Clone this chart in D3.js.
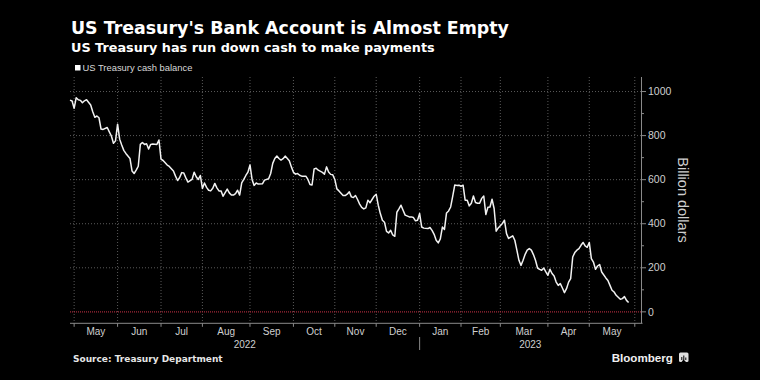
<!DOCTYPE html>
<html><head><meta charset="utf-8">
<script src="https://cdn.jsdelivr.net/npm/d3@7"></script>
<style>html,body{margin:0;padding:0;background:#000;}svg{display:block;}</style>
</head><body>
<svg id="chart" width="760" height="380"></svg>
<script>
// ---- data ----
const title = "US Treasury's Bank Account is Almost Empty";
const subtitle = "US Treasury has run down cash to make payments";
const seriesName = "US Treasury cash balance";
const sourceText = "Source: Treasury Department";
const yAxisTitle = "Billion dollars";

const calendarStart = "2022-04-28";
const calendarEnd = "2023-06-06";
const holidays = ["2022-05-30","2022-06-20","2022-07-04","2022-09-05","2022-10-10","2022-11-11",
  "2022-11-24","2022-12-26","2023-01-02","2023-01-16","2023-02-20","2023-05-29"];

const dates = [
 "2022-04-28","2022-04-29","2022-05-02","2022-05-03","2022-05-04","2022-05-05","2022-05-06","2022-05-09","2022-05-10","2022-05-12",
 "2022-05-13","2022-05-16","2022-05-17","2022-05-18","2022-05-19","2022-05-20","2022-05-24","2022-05-25","2022-05-26","2022-05-27",
 "2022-05-31","2022-06-01","2022-06-02","2022-06-03","2022-06-06","2022-06-07","2022-06-09","2022-06-10","2022-06-13","2022-06-14",
 "2022-06-15","2022-06-16","2022-06-17","2022-06-21","2022-06-22","2022-06-23","2022-06-24","2022-06-27","2022-06-29","2022-06-30",
 "2022-07-01","2022-07-05","2022-07-07","2022-07-08","2022-07-12","2022-07-13","2022-07-14","2022-07-15","2022-07-18","2022-07-19",
 "2022-07-20","2022-07-21","2022-07-25","2022-07-26","2022-07-27","2022-07-28","2022-07-29","2022-08-01","2022-08-02","2022-08-03",
 "2022-08-04","2022-08-05","2022-08-08","2022-08-09","2022-08-10","2022-08-11","2022-08-12","2022-08-15","2022-08-17","2022-08-18",
 "2022-08-19","2022-08-22","2022-08-23","2022-08-24","2022-08-25","2022-08-26","2022-08-29","2022-08-30","2022-08-31","2022-09-01",
 "2022-09-02","2022-09-06","2022-09-07","2022-09-08","2022-09-12","2022-09-13","2022-09-15","2022-09-16","2022-09-19","2022-09-20",
 "2022-09-21","2022-09-22","2022-09-23","2022-09-26","2022-09-27","2022-09-29","2022-09-30","2022-10-03","2022-10-04","2022-10-05",
 "2022-10-06","2022-10-07","2022-10-12","2022-10-13","2022-10-14","2022-10-17","2022-10-18","2022-10-19","2022-10-20","2022-10-24",
 "2022-10-25","2022-10-26","2022-10-27","2022-10-28","2022-10-31","2022-11-01","2022-11-02","2022-11-03","2022-11-07","2022-11-08",
 "2022-11-09","2022-11-10","2022-11-14","2022-11-15","2022-11-16","2022-11-17","2022-11-18","2022-11-21","2022-11-22","2022-11-23",
 "2022-11-25","2022-11-28","2022-11-29","2022-11-30","2022-12-01","2022-12-02","2022-12-05","2022-12-06","2022-12-07","2022-12-08",
 "2022-12-09","2022-12-12","2022-12-13","2022-12-14","2022-12-15","2022-12-16","2022-12-19","2022-12-20","2022-12-21","2022-12-23",
 "2022-12-27","2022-12-28","2022-12-29","2022-12-30","2023-01-03","2023-01-04","2023-01-05","2023-01-09","2023-01-10","2023-01-11",
 "2023-01-12","2023-01-13","2023-01-17","2023-01-18","2023-01-19","2023-01-20","2023-01-23","2023-01-24","2023-01-25","2023-01-26",
 "2023-01-27","2023-01-30","2023-01-31","2023-02-01","2023-02-02","2023-02-03","2023-02-06","2023-02-07","2023-02-08","2023-02-09",
 "2023-02-10","2023-02-13","2023-02-14","2023-02-15","2023-02-16","2023-02-17","2023-02-21","2023-02-22","2023-02-23","2023-02-24",
 "2023-02-27","2023-02-28","2023-03-02","2023-03-03","2023-03-06","2023-03-07","2023-03-08","2023-03-09","2023-03-10","2023-03-13",
 "2023-03-14","2023-03-15","2023-03-16","2023-03-17","2023-03-20","2023-03-21","2023-03-22","2023-03-23","2023-03-24","2023-03-27",
 "2023-03-28","2023-03-29","2023-03-30","2023-03-31","2023-04-03","2023-04-04","2023-04-05","2023-04-06","2023-04-07","2023-04-10",
 "2023-04-11","2023-04-12","2023-04-13","2023-04-14","2023-04-17","2023-04-18","2023-04-19","2023-04-20","2023-04-21","2023-04-24",
 "2023-04-25","2023-04-26","2023-04-27","2023-04-28","2023-05-01","2023-05-02","2023-05-03","2023-05-04","2023-05-05","2023-05-08",
 "2023-05-09","2023-05-11","2023-05-12","2023-05-15","2023-05-16","2023-05-17","2023-05-18","2023-05-22","2023-05-23","2023-05-24",
 "2023-05-25","2023-05-26"
];
const balance = [
 961,957,924,972,963,960,949,958,963,939,
 908,883,889,881,830,828,837,817,798,765,
 776,852,784,757,733,719,696,639,628,643,
 661,760,769,760,763,739,760,762,760,780,
 693,687,666,660,639,616,596,610,632,630,
 608,589,601,634,613,601,619,560,585,565,
 552,549,561,583,563,549,549,525,557,540,
 530,530,537,552,530,585,601,619,634,667,
 601,574,585,580,581,598,604,628,674,696,
 707,696,689,695,707,686,658,634,625,628,
 620,616,616,601,578,576,649,652,643,633,
 625,658,635,624,622,601,558,549,528,528,
 534,545,522,519,528,510,489,474,467,472,
 507,495,510,525,534,484,446,416,407,365,
 358,370,349,343,452,467,484,461,439,431,
 431,428,413,416,446,385,380,378,383,370,
 352,325,313,331,385,374,449,458,476,525,
 576,574,575,570,575,507,507,481,493,526,
 496,493,493,515,526,442,475,476,511,469,
 366,381,401,416,355,333,339,345,325,280,
 234,211,234,261,280,287,280,260,234,199,
 193,189,199,181,166,193,174,163,135,120,
 128,108,87,105,135,151,249,269,280,287,
 302,315,299,293,315,242,226,193,208,215,
 181,154,142,120,98,90,75,57,60,69,
 52,42
];
const monthLabels = ["May","Jun","Jul","Aug","Sep","Oct","Nov","Dec","Jan","Feb","Mar","Apr","May"];
const yearLabels = ["2022","2023"];
const yTicks = [0,200,400,600,800,1000];
const yMinorTicks = [100,300,500,700,900];

// ---- layout ----
const svg = d3.select("#chart");
svg.append("rect").attr("width",760).attr("height",380).attr("fill","#000");
const L = 70, R = 641, T = 77, B = 323.3;

const parse = d3.utcParse("%Y-%m-%d"), fmt = d3.utcFormat("%Y-%m-%d");
const hol = new Set(holidays);
const bdays = d3.utcDay.range(parse(calendarStart), d3.utcDay.offset(parse(calendarEnd), 1))
  .filter(d => d.getUTCDay() !== 0 && d.getUTCDay() !== 6 && !hol.has(fmt(d)));
const bIndex = new Map(bdays.map((d, i) => [fmt(d), i]));

const x = d3.scaleLinear().domain([0, bdays.length - 1]).range([L, R]);
const y = d3.scaleLinear().domain([-52, 1066]).range([B, T]);

// month boundaries (first business day of each month)
const monthStarts = d3.utcMonth.range(new Date(Date.UTC(2022,4,1)), new Date(Date.UTC(2023,6,1)))
  .map(m => bdays.findIndex(d => d >= m));
const monthX = monthStarts.map(i => x(i));

const grid = svg.append("g");
// horizontal grid
grid.selectAll("line.h").data(yTicks.filter(v => v > 0)).join("line")
  .attr("x1", L).attr("x2", R).attr("y1", d => y(d)).attr("y2", d => y(d))
  .attr("stroke", "#5a5a5a").attr("stroke-width", 1).attr("stroke-dasharray", "1,2");
// vertical grid
grid.selectAll("line.v").data(monthX).join("line")
  .attr("x1", d => d).attr("x2", d => d).attr("y1", T).attr("y2", B)
  .attr("stroke", "#5a5a5a").attr("stroke-width", 1).attr("stroke-dasharray", "1,2");

// zero line
svg.append("line").attr("x1", L).attr("x2", R).attr("y1", y(0)).attr("y2", y(0))
  .attr("stroke", "#a3283a").attr("stroke-width", 1.2).attr("stroke-dasharray", "1,1");

// series line
const pts = dates.map((d, i) => ({i: bIndex.get(d), v: balance[i]}));
svg.append("path").datum(pts)
  .attr("fill", "none").attr("stroke", "#f2f2f2").attr("stroke-width", 1.5)
  .attr("stroke-linejoin", "round")
  .attr("d", d3.line().x(d => x(d.i)).y(d => y(d.v)));

// bottom axis
const axCol = "#8a8a8a";
svg.append("line").attr("x1", L).attr("x2", R + 1.5).attr("y1", B).attr("y2", B)
  .attr("stroke", axCol).attr("stroke-width", 1);
svg.selectAll("line.xt").data(monthX).join("line")
  .attr("x1", d => d).attr("x2", d => d).attr("y1", B).attr("y2", B + 3.5)
  .attr("stroke", axCol);
svg.selectAll("text.mon").data(monthLabels).join("text")
  .attr("x", (d, k) => (monthX[k] + monthX[k + 1]) / 2).attr("y", 335)
  .attr("text-anchor", "middle").attr("fill", "#cfcfcf")
  .attr("font-family", "Liberation Sans, Arial, sans-serif").attr("font-size", 10)
  .text(d => d);
// year separator & labels
const janX = monthX[8];
svg.append("line").attr("x1", janX).attr("x2", janX).attr("y1", 337).attr("y2", 350)
  .attr("stroke", axCol);
svg.selectAll("text.yr").data(yearLabels).join("text")
  .attr("x", (d, k) => k === 0 ? (L + janX) / 2 : (janX + R) / 2).attr("y", 347.5)
  .attr("text-anchor", "middle").attr("fill", "#cfcfcf")
  .attr("font-family", "Liberation Sans, Arial, sans-serif").attr("font-size", 10)
  .text(d => d);

// right axis
svg.append("line").attr("x1", R + 0.5).attr("x2", R + 0.5).attr("y1", T).attr("y2", B)
  .attr("stroke", axCol).attr("stroke-width", 1);
svg.selectAll("line.yt").data(yTicks).join("line")
  .attr("x1", R).attr("x2", R + 5).attr("y1", d => y(d)).attr("y2", d => y(d))
  .attr("stroke", axCol);
svg.selectAll("line.ym").data(yMinorTicks).join("line")
  .attr("x1", R).attr("x2", R + 3).attr("y1", d => y(d)).attr("y2", d => y(d))
  .attr("stroke", axCol);
svg.selectAll("text.yl").data(yTicks).join("text")
  .attr("x", R + 7).attr("y", d => y(d)).attr("dy", "0.35em")
  .attr("fill", "#cfcfcf").attr("font-family", "Liberation Sans, Arial, sans-serif")
  .attr("font-size", 10.5).text(d => d);
svg.append("text").attr("transform", "translate(677.5,200) rotate(90)")
  .attr("text-anchor", "middle").attr("fill", "#cfcfcf")
  .attr("font-family", "Liberation Sans, Arial, sans-serif").attr("font-size", 14.5)
  .text(yAxisTitle);

// titles
svg.append("text").attr("x", 71).attr("y", 34.3).attr("fill", "#fff")
  .attr("font-family", "DejaVu Sans, sans-serif").attr("font-weight", "bold").attr("font-size", 17.4)
  .text(title);
svg.append("text").attr("x", 71).attr("y", 51.7).attr("fill", "#fff")
  .attr("font-family", "DejaVu Sans, sans-serif").attr("font-weight", "bold").attr("font-size", 12.8)
  .text(subtitle);

// legend
svg.append("rect").attr("x", 75).attr("y", 65).attr("width", 5.5).attr("height", 5.5).attr("fill", "#fff");
svg.append("text").attr("x", 82.5).attr("y", 71).attr("fill", "#d8d8d8")
  .attr("font-family", "Liberation Sans, Arial, sans-serif").attr("font-size", 9.4)
  .text(seriesName);

// source
svg.append("text").attr("x", 73).attr("y", 361.5).attr("fill", "#e6e6e6")
  .attr("font-family", "DejaVu Sans, sans-serif").attr("font-weight", "bold").attr("font-size", 9)
  .text(sourceText);

// Bloomberg mark
svg.append("text").attr("x", 611.7).attr("y", 361.5).attr("fill", "#f0f0f0")
  .attr("font-family", "Liberation Sans, Arial, sans-serif").attr("font-weight", "bold").attr("font-size", 11.6)
  .text("Bloomberg");
const icon = svg.append("g").attr("transform", "translate(679,352.5)");
icon.append("rect").attr("width", 9.5).attr("height", 9.5).attr("rx", 1.5).attr("fill", "#e0e0e0");
icon.append("path").attr("d", "M2.5 9.5 L4.5 7 L7 9.5 Z").attr("fill", "#000");
[[2.3,4.5,1,3],[4.3,3,1,4.5],[6.3,5,1,2.5]].forEach(b =>
  icon.append("rect").attr("x", b[0]).attr("y", b[1]).attr("width", b[2]).attr("height", b[3]).attr("fill", "#000"));
</script>
</body></html>
